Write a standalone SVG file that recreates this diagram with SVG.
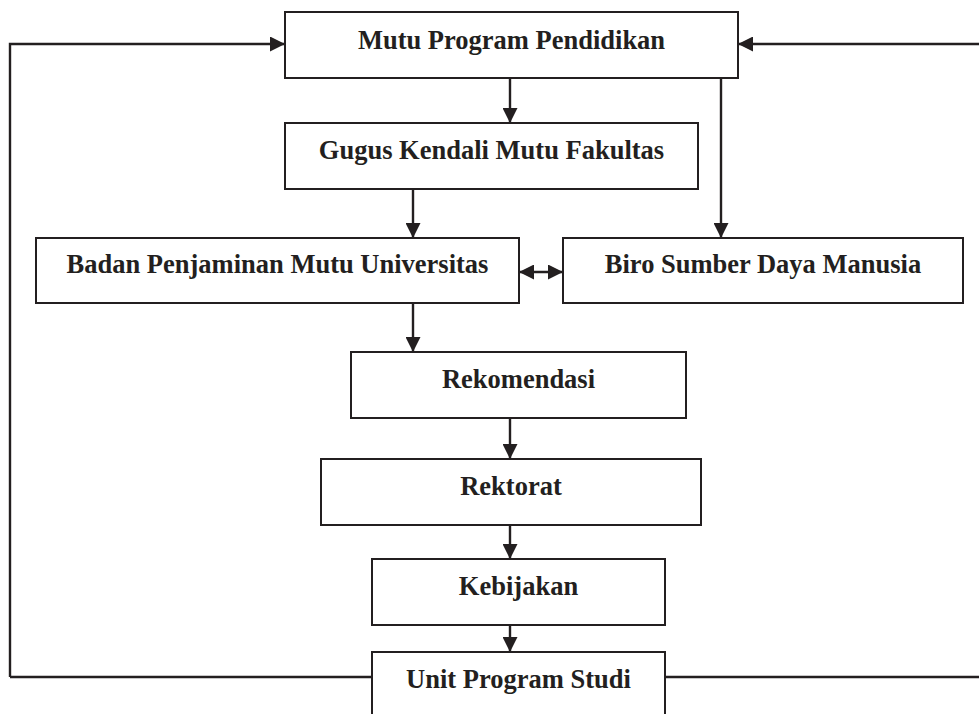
<svg xmlns="http://www.w3.org/2000/svg" width="979" height="714" viewBox="0 0 979 714">
  <style>
    .box { fill: #ffffff; stroke: #231f20; stroke-width: 2; }
    .lbl { font-family: "Liberation Serif", "Times New Roman", serif; font-weight: bold; font-size: 26.5px; fill: #231f20; text-anchor: middle; }
    .ln { fill: none; stroke: #231f20; stroke-width: 2.4; }
    .arr { fill: none; stroke: #231f20; stroke-width: 2.4; marker-end: url(#ah); }
  </style>
  <defs>
    <marker id="ah" viewBox="0 0 10 10" refX="10" refY="5" markerUnits="userSpaceOnUse" markerWidth="15" markerHeight="15" orient="auto-start-reverse">
      <path d="M0,0 L10,5 L0,10 z" fill="#231f20"/>
    </marker>
  </defs>
  <rect width="979" height="714" fill="#ffffff"/>

  <g id="connectors">
    <path class="arr" d="M10,677 L10,44 L285,44"/>
    <path class="arr" d="M979,44 L738,44"/>
    <path class="arr" d="M510,78 L510,123"/>
    <path class="arr" d="M721,78 L721,238"/>
    <path class="arr" d="M413,189 L413,238"/>
    <path class="arr" d="M519,272 L563,272" style="marker-start: url(#ah)"/>
    <path class="arr" d="M413,303 L413,352"/>
    <path class="arr" d="M510,418 L510,459"/>
    <path class="arr" d="M510,525 L510,559"/>
    <path class="arr" d="M510,625 L510,652"/>
    <path class="ln" d="M10,677 L372,677"/>
    <path class="ln" d="M665,677 L979,677"/>
  </g>

  <g id="mutu-program">
    <rect class="box" x="285" y="12" width="453" height="66"/>
    <text class="lbl" x="511.5" y="49">Mutu Program Pendidikan</text>
  </g>
  <g id="gugus-kendali">
    <rect class="box" x="285" y="123" width="413" height="66"/>
    <text class="lbl" x="491.5" y="159">Gugus Kendali Mutu Fakultas</text>
  </g>
  <g id="badan-penjaminan">
    <rect class="box" x="36" y="238" width="483" height="65"/>
    <text class="lbl" x="277.5" y="273">Badan Penjaminan Mutu Universitas</text>
  </g>
  <g id="biro-sdm">
    <rect class="box" x="563" y="238" width="400" height="65"/>
    <text class="lbl" x="763" y="273">Biro Sumber Daya Manusia</text>
  </g>
  <g id="rekomendasi">
    <rect class="box" x="351" y="352" width="335" height="66"/>
    <text class="lbl" x="518.5" y="388">Rekomendasi</text>
  </g>
  <g id="rektorat">
    <rect class="box" x="321" y="459" width="380" height="66"/>
    <text class="lbl" x="511" y="495">Rektorat</text>
  </g>
  <g id="kebijakan">
    <rect class="box" x="372" y="559" width="293" height="66"/>
    <text class="lbl" x="518.5" y="595">Kebijakan</text>
  </g>
  <g id="unit-program-studi">
    <rect class="box" x="372" y="652" width="293" height="80"/>
    <text class="lbl" x="518.5" y="688">Unit Program Studi</text>
  </g>
</svg>
